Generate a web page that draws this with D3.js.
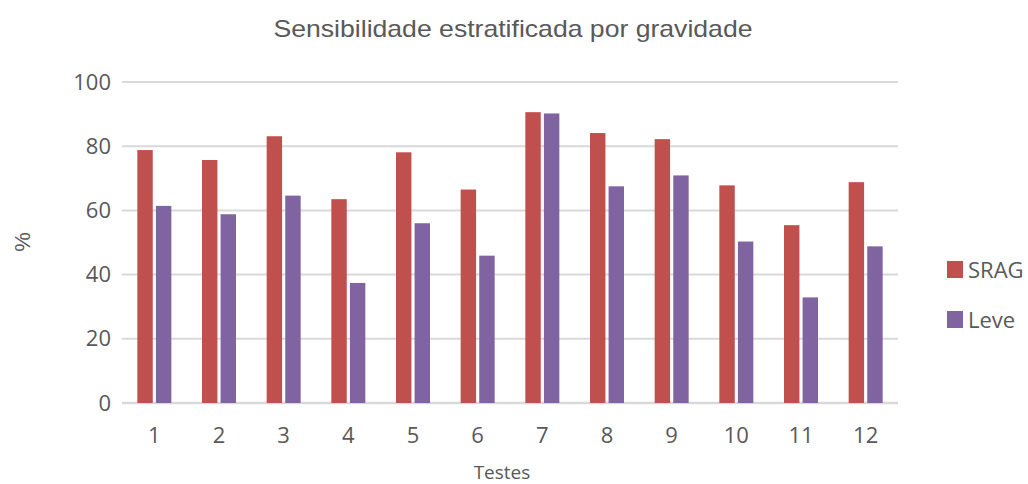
<!DOCTYPE html>
<html>
<head>
<meta charset="utf-8">
<script src="https://cdn.jsdelivr.net/npm/d3@7"></script>
<style>
  body { margin: 0; background: #fff; }
  text { fill: #595959; }
</style>
</head>
<body>
<svg id="chart"></svg>
<script>
var width = 1028,
    height = 484;

// data
var categories = ["1", "2", "3", "4", "5", "6", "7", "8", "9", "10", "11", "12"];
var srag = [78.8, 75.7, 83.1, 63.5, 78.1, 66.5, 90.6, 84.1, 82.2, 67.8, 55.4, 68.8];
var leve = [61.4, 58.8, 64.6, 37.4, 56.0, 45.9, 90.2, 67.5, 70.9, 50.3, 32.9, 48.8];
var seriesNames = ["SRAG", "Leve"];
var seriesColors = ["#c0504d", "#8064a2"];
var yTicks = [0, 20, 40, 60, 80, 100];

var plotLeft = 122, plotRight = 898, plotTop = 82, plotBottom = 403;

var svg = d3.select("#chart").attr("width", width).attr("height", height);

var x = d3.scaleBand().domain(categories).range([plotLeft, plotRight]);
var x1 = d3.scaleBand().domain(seriesNames).range([0, 34]).paddingInner(0.17);
var y = d3.scaleLinear().domain([0, 100]).range([plotBottom, plotTop]);

// gridlines
svg.append("g").selectAll("line").data(yTicks).enter().append("line")
    .attr("x1", plotLeft).attr("x2", plotRight)
    .attr("y1", function(d) { return y(d); })
    .attr("y2", function(d) { return y(d); })
    .attr("stroke", "#d9d9d9")
    .attr("stroke-width", function(d) { return d === 0 ? 2.5 : 2; });

// bars
var series = [srag, leve];
series.forEach(function(vals, s) {
    svg.append("g").selectAll("rect").data(vals).enter().append("rect")
        .attr("x", function(d, i) { return x(categories[i]) + x.bandwidth() / 2 - 17 + x1(seriesNames[s]); })
        .attr("width", x1.bandwidth())
        .attr("y", function(d) { return y(d); })
        .attr("height", function(d) { return y(0) - y(d); })
        .attr("fill", seriesColors[s]);
});

// y axis labels
var yAxis = svg.append("g")
    .attr("transform", "translate(" + (plotLeft - 11) + ",0)")
    .call(d3.axisLeft(y).tickValues(yTicks).tickSize(0).tickPadding(0));
yAxis.select(".domain").remove();
yAxis.selectAll("text")
    .attr("font-family", "'Open Sans', sans-serif")
    .attr("font-size", 22)
    .attr("fill", "#595959");

// x axis labels
var xAxis = svg.append("g")
    .attr("transform", "translate(0," + (plotBottom + 24) + ")")
    .call(d3.axisBottom(x).tickSize(0).tickPadding(0));
xAxis.select(".domain").remove();
xAxis.selectAll("text")
    .attr("font-family", "'Open Sans', sans-serif")
    .attr("font-size", 22)
    .attr("fill", "#595959");

// title
svg.append("text")
    .attr("x", 513).attr("y", 37)
    .attr("text-anchor", "middle")
    .attr("font-family", "'Liberation Sans', Arial, sans-serif")
    .attr("font-size", 24)
    .attr("textLength", 479)
    .attr("lengthAdjust", "spacingAndGlyphs")
    .text("Sensibilidade estratificada por gravidade");

// axis titles
svg.append("text")
    .attr("x", 502).attr("y", 479)
    .attr("text-anchor", "middle")
    .attr("font-family", "'Open Sans', sans-serif")
    .attr("font-size", 19)
    .text("Testes");

svg.append("text")
    .attr("transform", "translate(30,242) rotate(-90)")
    .attr("text-anchor", "middle")
    .attr("font-family", "'Liberation Sans', Arial, sans-serif")
    .attr("font-size", 22)
    .text("%");

// legend
var legend = svg.append("g").selectAll("g").data(seriesNames).enter().append("g")
    .attr("transform", function(d, i) { return "translate(947," + (261 + i * 50) + ")"; });
legend.append("rect")
    .attr("width", 16).attr("height", 17)
    .attr("fill", function(d, i) { return seriesColors[i]; });
legend.append("text")
    .attr("x", 21).attr("y", 17)
    .attr("font-family", "'Open Sans', sans-serif")
    .attr("font-size", 22)
    .text(function(d) { return d; });
</script>
</body>
</html>
